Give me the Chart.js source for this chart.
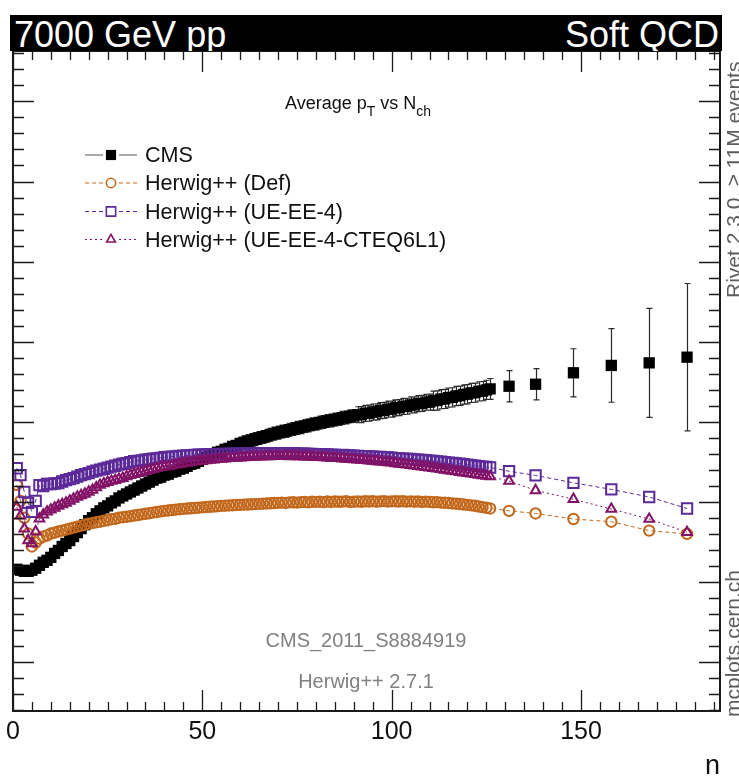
<!DOCTYPE html>
<html lang="en">
<head>
<meta charset="utf-8">
<title>Average pT vs Nch - 7000 GeV pp</title>
<script src="https://cdn.jsdelivr.net/npm/chart.js@4.4.1/dist/chart.umd.min.js"></script>
<style>
  html, body { margin: 0; padding: 0; background: #fff; }
  #plot {
    position: relative; width: 739px; height: 777px; overflow: hidden;
    font-family: "Liberation Sans", Arial, Helvetica, sans-serif;
  }
  #plot canvas { position: absolute; left: 0; top: 0; }
  .lbl { position: absolute; white-space: nowrap; }
  #bar { position: absolute; left: 10px; top: 15px; width: 712px; height: 36px; background: #000; overflow: hidden; }
  #bar span { position: absolute; top: 1.5px; font-size: 36px; line-height: 36px; color: #fff; }
  #energy { left: 4px; }
  #group { right: 3px; }
  #title { left: 285px; top: 93px; font-size: 18px; line-height: 20px; color: #111; }
  #title sub { font-size: 14px; vertical-align: -7px; line-height: 0; }
  .leg { left: 145px; font-size: 21.6px; line-height: 24px; color: #111; }
  .note { left: 366px; transform: translateX(-50%); font-size: 20px; line-height: 22px; color: #808080; }
  .side { font-size: 21px; line-height: 24px; color: #5c5c5c; transform: rotate(-90deg); transform-origin: 0 0; }
  #rivet { left: 722px; top: 298px; }
  #mcplots { left: 721px; top: 717px; }
  #xtitle { right: 19px; top: 750px; font-size: 27px; line-height: 30px; color: #111; }
</style>
</head>
<body>
<div id="plot">
  <canvas id="c" width="739" height="777"></canvas>
  <div id="bar"><span id="energy">7000 GeV pp</span><span id="group">Soft QCD</span></div>
  <div class="lbl" id="title">Average p<sub>T</sub> vs N<sub>ch</sub></div>
  <div id="legend"></div>
  <div class="lbl note" style="top:629px">CMS_2011_S8884919</div>
  <div class="lbl note" style="top:670px">Herwig++ 2.7.1</div>
  <div class="lbl side" id="rivet">Rivet 2.3.0, &ge; 11M events</div>
  <div class="lbl side" id="mcplots">mcplots.cern.ch</div>
  <div class="lbl" id="xtitle">n</div>
</div>
<script>
// charged multiplicity bin centres: unit bins up to 126, then the wide tail bins
const nValues = [
  1, 2, 3, 4, 5, 6, 7, 8, 9, 10,
  11, 12, 13, 14, 15, 16, 17, 18, 19, 20,
  21, 22, 23, 24, 25, 26, 27, 28, 29, 30,
  31, 32, 33, 34, 35, 36, 37, 38, 39, 40,
  41, 42, 43, 44, 45, 46, 47, 48, 49, 50,
  51, 52, 53, 54, 55, 56, 57, 58, 59, 60,
  61, 62, 63, 64, 65, 66, 67, 68, 69, 70,
  71, 72, 73, 74, 75, 76, 77, 78, 79, 80,
  81, 82, 83, 84, 85, 86, 87, 88, 89, 90,
  91, 92, 93, 94, 95, 96, 97, 98, 99, 100,
  101, 102, 103, 104, 105, 106, 107, 108, 109, 110,
  111, 112, 113, 114, 115, 116, 117, 118, 119, 120,
  121, 122, 123, 124, 125, 126,
  131, 138, 148, 158, 168, 178
];

// <pT> [GeV], CMS data
const cmsMean = [
  .4157, .4145, .4132, .4132, .4145, .4170, .4207, .4244, .4269, .4306,
  .4355, .4392, .4442, .4479, .4516, .4566, .4615, .4665, .4714, .4764,
  .4801, .4850, .4887, .4924, .4949, .4986, .5011, .5048, .5073, .5098,
  .5123, .5147, .5172, .5197, .5222, .5246, .5271, .5296, .5308, .5333,
  .5345, .5370, .5382, .5407, .5420, .5444, .5469, .5482, .5506, .5531,
  .5556, .5568, .5593, .5618, .5630, .5655, .5667, .5692, .5704, .5729,
  .5744, .5756, .5771, .5782, .5798, .5809, .5826, .5836, .5852, .5863,
  .5878, .5885, .5901, .5908, .5923, .5930, .5945, .5953, .5968, .5975,
  .5989, .5995, .6008, .6014, .6028, .6034, .6048, .6052, .6068, .6072,
  .6087, .6089, .6104, .6106, .6121, .6124, .6139, .6141, .6156, .6158,
  .6174, .6176, .6191, .6193, .6209, .6210, .6226, .6228, .6243, .6245,
  .6262, .6265, .6282, .6285, .6301, .6304, .6321, .6324, .6340, .6344,
  .6360, .6363, .6379, .6382, .6398, .6410,
  .6443, .6468, .6611, .6703, .6735, .6806
];

const cmsErr = [
  .005, .005, .005, .005, .005, .005, .005, .005, .005, .005,
  .005, .005, .005, .005, .005, .005, .005, .005, .005, .005,
  .005, .005, .005, .005, .005, .005, .005, .005, .005, .005,
  .006, .006, .006, .006, .006, .006, .006, .006, .006, .006,
  .006, .006, .006, .006, .006, .006, .006, .006, .006, .006,
  .006, .006, .006, .006, .006, .006, .006, .006, .006, .006,
  .008, .008, .008, .008, .008, .008, .008, .008, .008, .008,
  .008, .008, .008, .008, .008, .008, .008, .008, .008, .008,
  .008, .008, .008, .008, .008, .008, .008, .008, .008, .008,
  .010, .010, .010, .010, .010, .010, .010, .010, .010, .010,
  .010, .010, .010, .010, .010, .010, .010, .010, .010, .010,
  .012, .012, .012, .012, .012, .012, .012, .012, .012, .012,
  .012, .012, .012, .012, .012, .013,
  .0195, .0195, .030, .046, .068, .092
];

// Herwig++ default tune
const herwigDef = [
  .5211, .5011, .4800, .4603, .4442, .4491, .4541, .4566, .4578, .4603,
  .4615, .4628, .4640, .4652, .4665, .4677, .4690, .4702, .4714, .4727,
  .4733, .4745, .4751, .4763, .4770, .4782, .4788, .4801, .4807, .4813,
  .4820, .4828, .4835, .4843, .4850, .4857, .4865, .4872, .4880, .4887,
  .4892, .4897, .4902, .4907, .4912, .4916, .4919, .4923, .4926, .4930,
  .4934, .4938, .4941, .4945, .4949, .4951, .4954, .4956, .4959, .4961,
  .4964, .4966, .4969, .4971, .4974, .4976, .4979, .4981, .4984, .4986,
  .4990, .4985, .4992, .4994, .4990, .4996, .4997, .4993, .5000, .4999,
  .5001, .4996, .5003, .4998, .5004, .5000, .5002, .5006, .4998, .5001,
  .5004, .5000, .5006, .5003, .5007, .5001, .5005, .5008, .5002, .5005,
  .5006, .5003, .5007, .5002, .5005, .5001, .5004, .4998, .5002, .4999,
  .4994, .4996, .4990, .4987, .4985, .4979, .4976, .4972, .4966, .4961,
  .4955, .4950, .4941, .4933, .4925, .4917,
  .4887, .4854, .4785, .4751, .4640, .4599
];

// Herwig++ UE-EE-4 tune
const herwigUE = [
  .5419, .5333, .5122, .4986, .4875, .5011, .5209, .5197, .5222, .5222,
  .5228, .5234, .5253, .5271, .5284, .5296, .5315, .5333, .5345, .5358,
  .5376, .5389, .5401, .5413, .5426, .5438, .5450, .5463, .5475, .5481,
  .5494, .5506, .5512, .5518, .5525, .5531, .5537, .5543, .5549, .5556,
  .5560, .5564, .5568, .5572, .5575, .5578, .5581, .5584, .5587, .5590,
  .5592, .5594, .5595, .5596, .5597, .5598, .5599, .5600, .5601, .5600,
  .5602, .5605, .5601, .5606, .5604, .5607, .5603, .5606, .5605, .5606,
  .5604, .5607, .5602, .5605, .5603, .5600, .5602, .5598, .5599, .5596,
  .5594, .5591, .5593, .5588, .5586, .5583, .5585, .5580, .5578, .5575,
  .5573, .5569, .5571, .5566, .5563, .5560, .5561, .5556, .5553, .5550,
  .5546, .5543, .5539, .5536, .5534, .5530, .5526, .5523, .5519, .5515,
  .5510, .5505, .5500, .5495, .5490, .5485, .5480, .5475, .5469, .5464,
  .5458, .5452, .5446, .5440, .5434, .5428,
  .5382, .5329, .5237, .5155, .5060, .4916
];

// Herwig++ UE-EE-4-CTEQ6L1 tune
const herwigCteq = [
  .4937, .4825, .4665, .4516, .4479, .4627, .4788, .4838, .4875, .4900,
  .4924, .4949, .4968, .4986, .5011, .5036, .5061, .5079, .5098, .5123,
  .5147, .5178, .5209, .5228, .5246, .5259, .5271, .5284, .5296, .5315,
  .5333, .5345, .5358, .5370, .5382, .5395, .5407, .5420, .5432, .5438,
  .5444, .5453, .5462, .5470, .5479, .5486, .5494, .5500, .5506, .5512,
  .5517, .5522, .5527, .5531, .5535, .5539, .5543, .5546, .5549, .5552,
  .5555, .5557, .5560, .5561, .5563, .5565, .5566, .5567, .5568, .5569,
  .5568, .5570, .5567, .5569, .5566, .5567, .5564, .5563, .5561, .5559,
  .5556, .5554, .5551, .5549, .5545, .5543, .5539, .5536, .5532, .5529,
  .5525, .5521, .5518, .5513, .5509, .5505, .5500, .5496, .5491, .5487,
  .5480, .5474, .5468, .5462, .5456, .5450, .5444, .5438, .5432, .5426,
  .5420, .5413, .5406, .5399, .5392, .5385, .5378, .5371, .5364, .5357,
  .5350, .5343, .5336, .5329, .5322, .5315,
  .5259, .5143, .5032, .4909, .4785, .4619
];

const seriesLabels = ['CMS', 'Herwig++ (Def)', 'Herwig++ (UE-EE-4)', 'Herwig++ (UE-EE-4-CTEQ6L1)'];
const xTicks = [0, 50, 100, 150];

const FONT = '"Liberation Sans", Arial, Helvetica, sans-serif';
const legendRows = [155, 183, 211.5, 239.5];

// legend text, one row per series
const legendBox = document.getElementById('legend');
seriesLabels.forEach((text, i) => {
  const d = document.createElement('div');
  d.className = 'lbl leg';
  d.style.top = (legendRows[i] - 11.8) + 'px';
  d.textContent = text;
  legendBox.appendChild(d);
});

const pts = vals => nValues.map((n, i) => ({ x: n, y: vals[i] }));

function mcSeries(label, vals, color, style, radius, dash, order) {
  return {
    label, data: pts(vals), order,
    borderColor: color, borderWidth: 1, borderDash: dash,
    pointStyle: style, pointRadius: radius, pointBorderWidth: 2,
    pointBackgroundColor: 'rgba(0,0,0,0)', pointBorderColor: color,
    tension: 0
  };
}

// error bars, inward ticks, frame and legend samples
const framePlugin = {
  id: 'frame',
  beforeDatasetsDraw(chart) {
    const { ctx, chartArea: a, scales: { x, y } } = chart;
    ctx.save();
    ctx.beginPath();
    ctx.rect(a.left, a.top, a.right - a.left, a.bottom - a.top);
    ctx.clip();
    ctx.strokeStyle = '#2a2a2a';
    ctx.lineWidth = 1.2;
    ctx.beginPath();
    nValues.forEach((n, i) => {
      const px = Math.round(x.getPixelForValue(n)) + 0.5;
      const hi = y.getPixelForValue(cmsMean[i] + cmsErr[i]);
      const lo = y.getPixelForValue(cmsMean[i] - cmsErr[i]);
      ctx.moveTo(px, hi); ctx.lineTo(px, lo);
      ctx.moveTo(px - 3, hi); ctx.lineTo(px + 3, hi);
      ctx.moveTo(px - 3, lo); ctx.lineTo(px + 3, lo);
    });
    ctx.stroke();
    ctx.restore();
  },
  afterDraw(chart) {
    const { ctx, chartArea: a, scales: { x, y } } = chart;
    ctx.save();
    ctx.strokeStyle = '#1a1a1a';
    ctx.lineWidth = 1.3;
    ctx.beginPath();
    for (let k = 0; k * 5 <= x.max; k++) {
      const px = Math.round(x.getPixelForValue(k * 5)) + 0.5;
      const len = k % 10 === 0 ? 21 : 9;
      ctx.moveTo(px, a.bottom); ctx.lineTo(px, a.bottom - len);
      ctx.moveTo(px, a.top); ctx.lineTo(px, a.top + len);
    }
    for (let k = Math.ceil(y.min / 0.02); k * 0.02 <= y.max; k++) {
      const py = Math.round(y.getPixelForValue(k * 0.02)) + 0.5;
      const len = k % 5 === 0 ? 21 : 11;
      ctx.moveTo(a.left, py); ctx.lineTo(a.left + len, py);
      ctx.moveTo(a.right, py); ctx.lineTo(a.right - len, py);
    }
    ctx.stroke();
    ctx.lineWidth = 2;
    ctx.strokeRect(a.left, a.top, a.right - a.left, a.bottom - a.top);

    chart.data.datasets.forEach((ds, i) => {
      const yy = legendRows[i];
      ctx.save();
      ctx.lineWidth = 1;
      ctx.strokeStyle = i === 0 ? '#555' : ds.borderColor;
      ctx.setLineDash(ds.borderDash || []);
      ctx.beginPath();
      ctx.moveTo(85, yy); ctx.lineTo(103, yy);
      ctx.moveTo(119, yy); ctx.lineTo(137, yy);
      ctx.stroke();
      ctx.setLineDash([]);
      ctx.fillStyle = ds.pointBackgroundColor;
      ctx.strokeStyle = ds.pointBorderColor;
      ctx.lineWidth = 1.6;
      Chart.helpers.drawPoint(ctx, {
        pointStyle: ds.pointStyle, radius: ds.pointRadius * 0.9,
        borderWidth: ds.pointBorderWidth, rotation: 0
      }, 111, yy);
      ctx.restore();
    });
    ctx.restore();
  }
};

Chart.defaults.font.family = FONT;

new Chart(document.getElementById('c'), {
  type: 'line',
  data: {
    datasets: [
      {
        label: seriesLabels[0], data: pts(cmsMean), order: 4,
        showLine: false, pointStyle: 'rect', pointRadius: 8, pointBorderWidth: 0,
        pointBackgroundColor: '#000', pointBorderColor: '#000', borderColor: '#000'
      },
      mcSeries(seriesLabels[1], herwigDef, '#c2681c', 'circle', 5.2, [4, 3], 3),
      mcSeries(seriesLabels[2], herwigUE, '#5c2a98', 'rect', 7.3, [4, 3], 2),
      mcSeries(seriesLabels[3], herwigCteq, '#821266', 'triangle', 5.6, [2, 3], 1)
    ]
  },
  options: {
    responsive: false,
    animation: false,
    layout: { padding: { left: 12, right: 19, top: 51, bottom: 24 } },
    plugins: { legend: { display: false }, tooltip: { enabled: false } },
    scales: {
      x: {
        type: 'linear', min: 0, max: 186.7,
        grid: { display: false, drawTicks: false },
        border: { display: false },
        afterBuildTicks: s => { s.ticks = xTicks.map(v => ({ value: v })); },
        ticks: { font: { family: FONT, size: 25 }, color: '#111', padding: 6, maxRotation: 0, autoSkip: false }
      },
      y: { type: 'linear', display: false, min: 0.2387, max: 1.063 }
    }
  },
  plugins: [framePlugin]
});
</script>
</body>
</html>
